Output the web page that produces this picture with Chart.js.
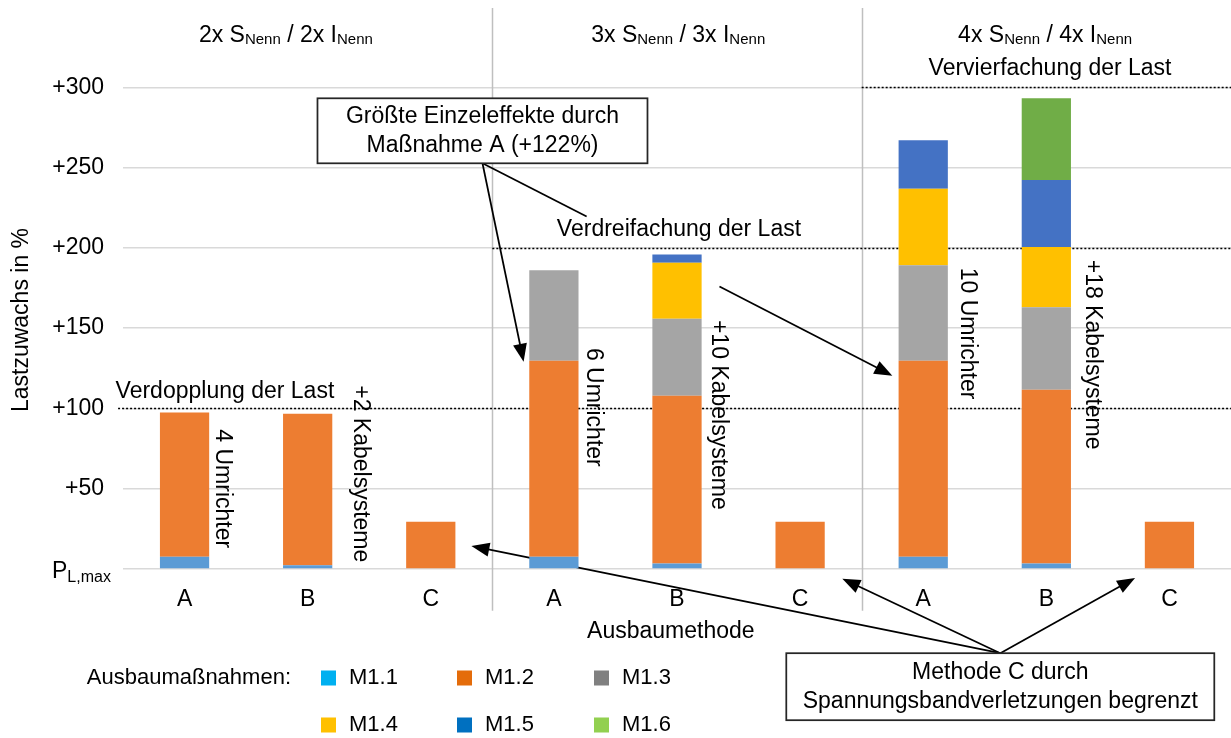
<!DOCTYPE html>
<html lang="de">
<head>
<meta charset="utf-8">
<title>Lastzuwachs je Ausbaumethode</title>
<script src="https://cdn.jsdelivr.net/npm/chart.js@4.4.0/dist/chart.umd.min.js"></script>
<style>
    html, body { margin: 0; padding: 0; background: #fff; }
    #wrap { width: 1231px; height: 738px; }
</style>
</head>
<body>
<div id="wrap"><canvas id="chart" width="1231" height="738"></canvas></div>
<script>
// Ausbaumethoden je Szenario (2x / 3x / 4x)
const categories = ['A', 'B', 'C', 'A', 'B', 'C', 'A', 'B', 'C'];
const scenarioFactors = ['2', '3', '4'];

// Lastzuwachs in % je Ausbaumaßnahme (gestapelt)
const m11 = [7.7, 2.3, 0.5, 7.7, 3.5, 0.5, 7.7, 3.5, 0.5];
const m12 = [89.8, 94.4, 29, 122, 104.4, 29, 122, 108.1, 29];
const m13 = [0, 0, 0, 56.3, 48, 0, 59.5, 51.4, 0];
const m14 = [0, 0, 0, 0, 34.8, 0, 47.6, 37.6, 0];
const m15 = [0, 0, 0, 0, 5.1, 0, 30.2, 41.6, 0];
const m16 = [0, 0, 0, 0, 0, 0, 0, 50.9, 0];

const seriesNames = ['M1.1', 'M1.2', 'M1.3', 'M1.4', 'M1.5', 'M1.6'];
const barColors = ['#5B9BD5', '#ED7D31', '#A5A5A5', '#FFC000', '#4472C4', '#70AD47'];
const legendColors = ['#00B0F0', '#E46C0A', '#808080', '#FFC000', '#0070C0', '#92D050'];

// Achse
const yTicks = [0, 50, 100, 150, 200, 250, 300];
const yMax = 350;

// Grenzlinien (Verdopplung / Verdreifachung / Vervierfachung)
const limitValues = [100, 200, 300];
const limitStarts = [-0.54, 2.5, 5.5];
const limitTexts = ['Verdopplung der Last', 'Verdreifachung der Last', 'Vervierfachung der Last'];

const FONT = "'Liberation Sans', Arial, sans-serif";

// Annotationen in Achsen-Koordinaten (Kategorie-Index, Wert)
const limitLabelPos = [[0.328, 110.2], [4.016, 211.4], [7.03, 311.4]];
const headerPos = [[0.823, 327.9], [4.01, 327.9], [6.99, 327.9]];
const sideLabels = [
    ['4 Umrichter', 0.303, 50],
    ['+2 Kabelsysteme', 1.43, 59.3],
    ['6 Umrichter', 3.323, 100.7],
    ['+10 Kabelsysteme', 4.337, 96],
    ['10 Umrichter', 6.358, 146.6],
    ['+18 Kabelsysteme', 7.372, 133.5]
];
const boxes = [
    { lines: ['Größte Einzeleffekte durch', 'Maßnahme A (+122%)'], at: [2.42, 272.9], w: 330, h: 65 },
    { lines: ['Methode C durch', 'Spannungsbandverletzungen begrenzt'], at: [6.626, -73.3], w: 428, h: 67 }
];
const arrows = [
    { box: 0, to: [2.754, 129.1], head: true },
    { box: 0, to: [3.266, 219.5], head: false },
    { from: [4.345, 175.9], to: [5.749, 120.4], head: true },
    { box: 1, to: [2.33, 14.3], head: true },
    { box: 1, to: [5.343, -6], head: true },
    { box: 1, to: [7.721, -5.6], head: true }
];

function drawArrow(ctx, x1, y1, x2, y2, head) {
    const a = Math.atan2(y2 - y1, x2 - x1);
    const len = 18, w = 7;
    const ex = head ? x2 - (len - 2) * Math.cos(a) : x2;
    const ey = head ? y2 - (len - 2) * Math.sin(a) : y2;
    ctx.beginPath();
    ctx.moveTo(x1, y1);
    ctx.lineTo(ex, ey);
    ctx.stroke();
    if (!head) return;
    ctx.beginPath();
    ctx.moveTo(x2, y2);
    ctx.lineTo(x2 - len * Math.cos(a) + w * Math.sin(a), y2 - len * Math.sin(a) - w * Math.cos(a));
    ctx.lineTo(x2 - len * Math.cos(a) - w * Math.sin(a), y2 - len * Math.sin(a) + w * Math.cos(a));
    ctx.closePath();
    ctx.fill();
}

function drawHeader(ctx, cx, baseY, factor) {
    const parts = [
        [factor + 'x S', 23, 0],
        ['Nenn', 15, 2],
        [' / ' + factor + 'x I', 23, 0],
        ['Nenn', 15, 2]
    ];
    let total = 0;
    parts.forEach(p => {
        ctx.font = p[1] + 'px ' + FONT;
        p.push(ctx.measureText(p[0]).width);
        total += p[3];
    });
    let x = cx - total / 2;
    ctx.textAlign = 'left';
    ctx.textBaseline = 'alphabetic';
    parts.forEach(p => {
        ctx.font = p[1] + 'px ' + FONT;
        ctx.fillText(p[0], x, baseY + p[2]);
        x += p[3];
    });
}

const overlay = {
    id: 'overlay',
    beforeDatasetsDraw(chart) {
        const { ctx, chartArea } = chart;
        const xs = chart.scales.x, ys = chart.scales.y;
        const X = v => xs.getPixelForValue(v);
        const Y = v => ys.getPixelForValue(v);
        ctx.save();

        // Trennlinien zwischen den Szenarien
        ctx.strokeStyle = '#bfbfbf';
        ctx.lineWidth = 1.5;
        [2.5, 5.5].forEach(s => {
            const px = Math.round(X(s)) + 0.5;
            ctx.beginPath();
            ctx.moveTo(px, chartArea.top + 1);
            ctx.lineTo(px, Y(-26));
            ctx.stroke();
        });

        // gestrichelte Grenzlinien
        ctx.strokeStyle = '#000';
        ctx.lineWidth = 1.5;
        ctx.setLineDash([2, 2]);
        limitValues.forEach((v, i) => {
            const py = Math.round(Y(v)) + 0.5;
            ctx.beginPath();
            ctx.moveTo(X(limitStarts[i]), py);
            ctx.lineTo(chartArea.right, py);
            ctx.stroke();
        });
        ctx.setLineDash([]);

        ctx.fillStyle = '#000';
        ctx.font = '23px ' + FONT;
        ctx.textAlign = 'center';
        ctx.textBaseline = 'middle';
        limitTexts.forEach((t, i) => {
            ctx.fillText(t, X(limitLabelPos[i][0]), Y(limitLabelPos[i][1]));
        });

        // Szenario-Überschriften
        scenarioFactors.forEach((f, i) => drawHeader(ctx, X(headerPos[i][0]), Y(headerPos[i][1]), f));

        // senkrechte Beschriftungen neben den Balken
        ctx.font = '23px ' + FONT;
        ctx.textAlign = 'center';
        ctx.textBaseline = 'middle';
        sideLabels.forEach(([t, c, v]) => {
            ctx.save();
            ctx.translate(X(c), Y(v));
            ctx.rotate(Math.PI / 2);
            ctx.fillText(t, 0, 0);
            ctx.restore();
        });

        // Pfeile
        ctx.strokeStyle = '#000';
        ctx.fillStyle = '#000';
        ctx.lineWidth = 1.75;
        arrows.forEach(a => {
            let x1, y1;
            if (a.box !== undefined) {
                const b = boxes[a.box];
                x1 = X(b.at[0]);
                y1 = a.box === 0 ? Y(b.at[1]) + b.h / 2 : Y(b.at[1]) - b.h / 2;
            } else {
                x1 = X(a.from[0]);
                y1 = Y(a.from[1]);
            }
            drawArrow(ctx, x1, y1, X(a.to[0]), Y(a.to[1]), a.head);
        });

        // Textkästen
        boxes.forEach(b => {
            const cx = X(b.at[0]), cy = Y(b.at[1]);
            ctx.fillStyle = '#fff';
            ctx.fillRect(cx - b.w / 2, cy - b.h / 2, b.w, b.h);
            ctx.strokeStyle = '#262626';
            ctx.lineWidth = 1.75;
            ctx.strokeRect(cx - b.w / 2, cy - b.h / 2, b.w, b.h);
            ctx.fillStyle = '#000';
            ctx.font = '23px ' + FONT;
            ctx.textAlign = 'center';
            ctx.textBaseline = 'middle';
            ctx.fillText(b.lines[0], cx, cy - 14.5);
            ctx.fillText(b.lines[1], cx, cy + 14.5);
        });

        ctx.restore();
    },
    afterDraw(chart) {
        const { ctx } = chart;
        const xs = chart.scales.x, ys = chart.scales.y;
        ctx.save();
        ctx.fillStyle = '#000';

        // P_L,max an der Nulllinie
        const y0 = ys.getPixelForValue(0);
        ctx.textAlign = 'left';
        ctx.textBaseline = 'alphabetic';
        ctx.font = '23px ' + FONT;
        ctx.fillText('P', 52, y0 + 8.5);
        const pw = ctx.measureText('P').width;
        ctx.font = '16px ' + FONT;
        ctx.fillText('L,max', 52 + pw, y0 + 13);

        // Achsentitel
        ctx.font = '23px ' + FONT;
        ctx.textAlign = 'center';
        ctx.textBaseline = 'middle';
        ctx.fillText('Ausbaumethode', xs.getPixelForValue(3.95), ys.getPixelForValue(-39));
        ctx.save();
        ctx.translate(22, 320);
        ctx.rotate(-Math.PI / 2);
        ctx.fillText('Lastzuwachs in %', 0, 0);
        ctx.restore();

        // Legende
        ctx.font = '22px ' + FONT;
        ctx.textAlign = 'right';
        ctx.fillText('Ausbaumaßnahmen:', 291, 678);
        ctx.textAlign = 'left';
        const cols = [321, 457, 594];
        const rows = [678, 725];
        seriesNames.forEach((n, i) => {
            const lx = cols[i % 3], ly = rows[Math.floor(i / 3)];
            ctx.fillStyle = legendColors[i];
            ctx.fillRect(lx, ly - 7.5, 15, 15);
            ctx.fillStyle = '#000';
            ctx.fillText(n, lx + 28, ly);
        });
        ctx.restore();
    }
};

const seriesData = [m11, m12, m13, m14, m15, m16];

new Chart(document.getElementById('chart'), {
    type: 'bar',
    data: {
        labels: categories,
        datasets: seriesData.map((d, i) => ({
            label: seriesNames[i],
            data: d,
            backgroundColor: barColors[i],
            borderWidth: 0,
            barPercentage: 0.4,
            categoryPercentage: 1
        }))
    },
    options: {
        responsive: false,
        animation: false,
        layout: { padding: { top: 7, right: 0, left: 0, bottom: 0 } },
        plugins: {
            legend: { display: false },
            tooltip: { enabled: false }
        },
        scales: {
            x: {
                stacked: true,
                grid: { display: false },
                border: { display: false },
                ticks: {
                    color: '#000',
                    padding: 9,
                    maxRotation: 0,
                    font: { family: FONT, size: 23 }
                },
                afterFit: s => {
                    s.height = 169;
                    s.paddingLeft = 0;
                    s.paddingRight = 0;
                }
            },
            y: {
                stacked: true,
                min: 0,
                max: yMax,
                afterBuildTicks: s => { s.ticks = yTicks.concat([yMax]).map(v => ({ value: v })); },
                ticks: {
                    color: '#000',
                    padding: 19,
                    font: { family: FONT, size: 23 },
                    callback: v => (v === 0 || v > 300) ? '' : '+' + v
                },
                grid: {
                    drawTicks: false,
                    lineWidth: 1.5,
                    color: c => c.tick && c.tick.value > 300 ? 'rgba(0,0,0,0)' : '#d9d9d9'
                },
                border: { display: false },
                afterFit: s => {
                    s.width = 123;
                    s.paddingTop = 0;
                    s.paddingBottom = 0;
                }
            }
        }
    },
    plugins: [overlay]
});
</script>
</body>
</html>
